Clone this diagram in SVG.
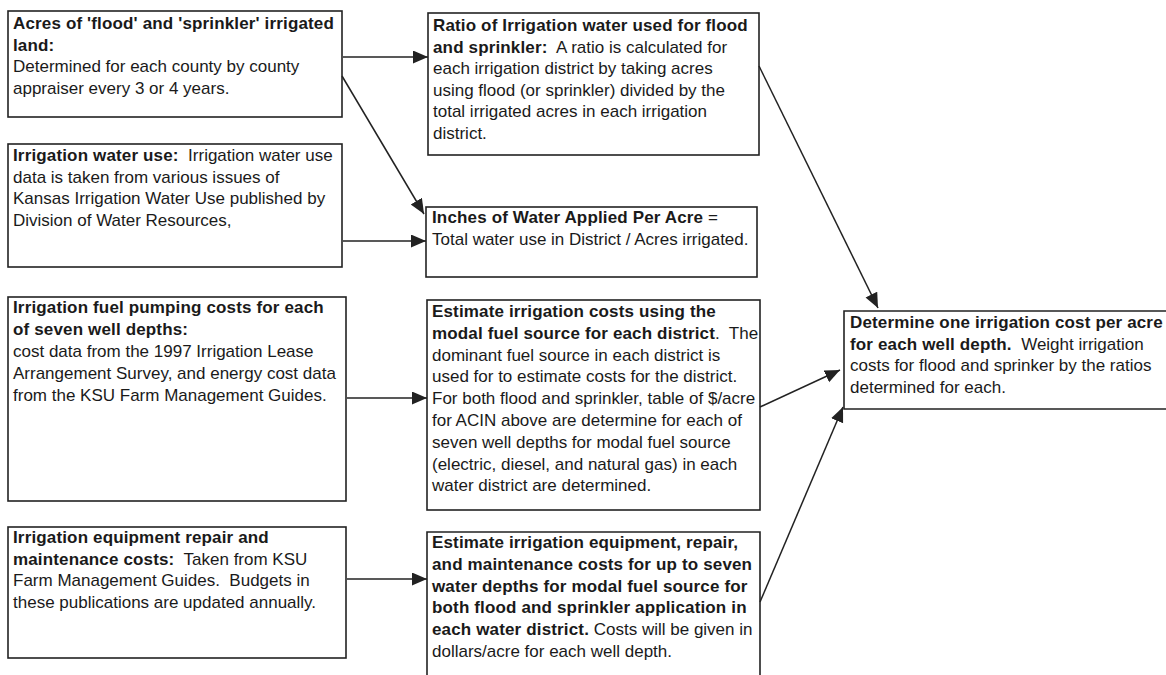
<svg xmlns="http://www.w3.org/2000/svg" width="1166" height="675" viewBox="0 0 1166 675">
<style>
.box{fill:none;stroke:#222;stroke-width:1.6}
.t{font-family:"Liberation Sans",Arial,sans-serif;font-size:17px;fill:#1a1a1a;white-space:pre}
.b{font-weight:bold;letter-spacing:0.15px}
.c{fill:none;stroke:#222;stroke-width:1.5}
</style>
<defs>
<marker id="ah" markerUnits="userSpaceOnUse" markerWidth="16" markerHeight="14" refX="15" refY="6.5" orient="auto">
<path d="M0,0 L15,6.5 L0,13 z" fill="#222"/>
</marker>
</defs>
<rect width="1166" height="675" fill="#fff"/>

<g id="n-acres">
<rect class="box" x="8" y="11" width="334" height="106"/>
<text class="t" xml:space="preserve"><tspan class="b" x="13" y="29">Acres of 'flood' and 'sprinkler' irrigated</tspan><tspan class="b" x="13" y="51">land:</tspan><tspan x="13" y="72">Determined for each county by county</tspan><tspan x="13" y="94">appraiser every 3 or 4 years.</tspan></text>
</g>

<g id="n-wateruse">
<rect class="box" x="8" y="144" width="334" height="123"/>
<text class="t" xml:space="preserve"><tspan x="13" y="161"><tspan class="b">Irrigation water use:</tspan>  Irrigation water use</tspan><tspan x="13" y="182.7">data is taken from various issues of</tspan><tspan x="13" y="204.4">Kansas Irrigation Water Use published by</tspan><tspan x="13" y="226">Division of Water Resources,</tspan></text>
</g>

<g id="n-fuel">
<rect class="box" x="8" y="297" width="338" height="204"/>
<text class="t" xml:space="preserve"><tspan class="b" x="13" y="313">Irrigation fuel pumping costs for each</tspan><tspan class="b" x="13" y="335">of seven well depths:</tspan><tspan x="13" y="357">cost data from the 1997 Irrigation Lease</tspan><tspan x="13" y="379">Arrangement Survey, and energy cost data</tspan><tspan x="13" y="401">from the KSU Farm Management Guides.</tspan></text>
</g>

<g id="n-equip">
<rect class="box" x="8" y="527" width="338" height="131"/>
<text class="t" xml:space="preserve"><tspan class="b" x="13" y="543">Irrigation equipment repair and</tspan><tspan x="13" y="564.7"><tspan class="b">maintenance costs:</tspan>  Taken from KSU</tspan><tspan x="13" y="586.4">Farm Management Guides.  Budgets in</tspan><tspan x="13" y="608">these publications are updated annually.</tspan></text>
</g>

<g id="n-ratio">
<rect class="box" x="428" y="13" width="331" height="142"/>
<text class="t" xml:space="preserve"><tspan class="b" x="433" y="31">Ratio of Irrigation water used for flood</tspan><tspan x="433" y="52.6"><tspan class="b">and sprinkler:</tspan>  A ratio is calculated for</tspan><tspan x="433" y="74.2">each irrigation district by taking acres</tspan><tspan x="433" y="95.8">using flood (or sprinkler) divided by the</tspan><tspan x="433" y="117.4">total irrigated acres in each irrigation</tspan><tspan x="433" y="139">district.</tspan></text>
</g>

<g id="n-inches">
<rect class="box" x="426" y="207" width="331" height="70"/>
<text class="t" xml:space="preserve"><tspan x="432" y="223"><tspan class="b">Inches of Water Applied Per Acre</tspan> =</tspan><tspan x="432" y="245">Total water use in District / Acres irrigated.</tspan></text>
</g>

<g id="n-estimate">
<rect class="box" x="427" y="300" width="333" height="210"/>
<text class="t" xml:space="preserve"><tspan class="b" x="432" y="317">Estimate irrigation costs using the</tspan><tspan x="432" y="338.8"><tspan class="b">modal fuel source for each district</tspan>.  The</tspan><tspan x="432" y="360.6">dominant fuel source in each district is</tspan><tspan x="432" y="382.4">used for to estimate costs for the district.</tspan><tspan x="432" y="404.2">For both flood and sprinkler, table of $/acre</tspan><tspan x="432" y="426">for ACIN above are determine for each of</tspan><tspan x="432" y="447.8">seven well depths for modal fuel source</tspan><tspan x="432" y="469.6">(electric, diesel, and natural gas) in each</tspan><tspan x="432" y="491.4">water district are determined.</tspan></text>
</g>

<g id="n-equipest">
<path class="box" d="M427,680 V532 H760 V680"/>
<text class="t" xml:space="preserve"><tspan class="b" x="432" y="548">Estimate irrigation equipment, repair,</tspan><tspan class="b" x="432" y="569.8">and maintenance costs for up to seven</tspan><tspan class="b" x="432" y="591.6">water depths for modal fuel source for</tspan><tspan class="b" x="432" y="613.4">both flood and sprinkler application in</tspan><tspan x="432" y="635.2"><tspan class="b">each water district.</tspan> Costs will be given in</tspan><tspan x="432" y="657">dollars/acre for each well depth.</tspan></text>
</g>

<g id="n-determine">
<path class="box" d="M1170,311 H844 V409 H1170"/>
<text class="t" xml:space="preserve"><tspan class="b" x="850" y="328">Determine one irrigation cost per acre</tspan><tspan x="850" y="349.7"><tspan class="b">for each well depth.</tspan>  Weight irrigation</tspan><tspan x="850" y="371.4">costs for flood and sprinker by the ratios</tspan><tspan x="850" y="393">determined for each.</tspan></text>
</g>

<g id="connectors">
<line class="c" x1="343" y1="57" x2="428" y2="57" marker-end="url(#ah)"/>
<line class="c" x1="342" y1="76" x2="424" y2="214" marker-end="url(#ah)"/>
<line class="c" x1="343" y1="241" x2="426" y2="241" marker-end="url(#ah)"/>
<line class="c" x1="347" y1="398" x2="427" y2="398" marker-end="url(#ah)"/>
<line class="c" x1="347" y1="579" x2="427" y2="579" marker-end="url(#ah)"/>
<line class="c" x1="759" y1="66" x2="878" y2="308" marker-end="url(#ah)"/>
<line class="c" x1="760" y1="407" x2="840" y2="370" marker-end="url(#ah)"/>
<line class="c" x1="760" y1="602" x2="843" y2="407" marker-end="url(#ah)"/>
</g>
</svg>
